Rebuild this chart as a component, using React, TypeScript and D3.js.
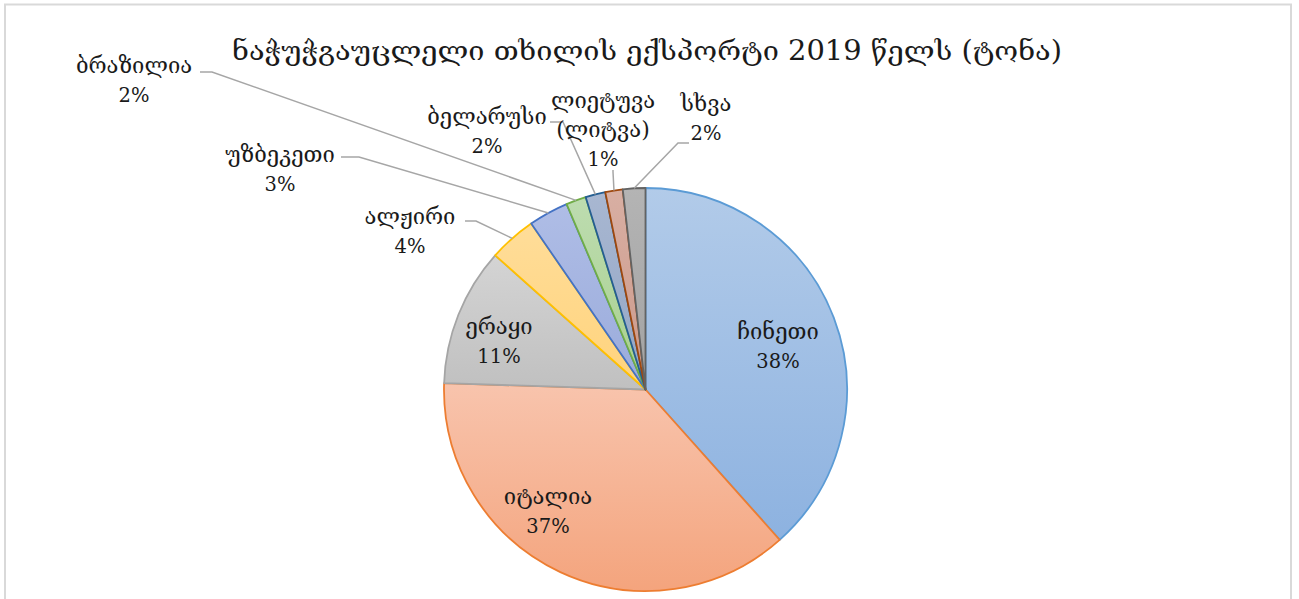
import React from "react";
import * as d3 from "d3";

const categories = ["ჩინეთი", "იტალია", "ერაყი", "ალჟირი", "უზბეკეთი", "ბრაზილია", "ბელარუსი", "ლიეტუვა (ლიტვა)", "სხვა"];
const shares = [38.4, 37.1, 11.1, 3.8, 3.2, 1.6, 1.6, 1.4, 1.8];
const labelLines = [["ჩინეთი"], ["იტალია"], ["ერაყი"], ["ალჟირი"], ["უზბეკეთი"], ["ბრაზილია"], ["ბელარუსი"], ["ლიეტუვა", "(ლიტვა)"], ["სხვა"]];
const title = "ნაჭუჭგაუცლელი თხილის ექსპორტი 2019 წელს (ტონა)";

const fillTop = ["#b2cbe9", "#f8c4ad", "#d4d4d4", "#ffdd99", "#afbde6", "#bddcb0", "#a8b7d1", "#d8afa3", "#b4b4b4"];
const fillBottom = ["#8db2e0", "#f4a47d", "#c0c0c0", "#ffd37c", "#9aabdb", "#a8d08d", "#93a6c5", "#cc998a", "#a2a2a2"];
const strokes = ["#5b9bd5", "#ed7d31", "#a5a5a5", "#ffc000", "#4472c4", "#70ad47", "#255e91", "#9e480e", "#636363"];

// label layout: text center x, first line baseline y, optional leader anchor/elbow
type Lay = { x: number; y: number; ax?: number; ay?: number; ex?: number; ey?: number };
const layout: Lay[] = [
  { x: 778, y: 339 },
  { x: 548, y: 504 },
  { x: 499, y: 334 },
  { x: 410, y: 224, ax: 465, ay: 221, ex: 476, ey: 221 },
  { x: 280, y: 162, ax: 341, ay: 157, ex: 359, ey: 157 },
  { x: 134, y: 73, ax: 200, ay: 72, ex: 212, ey: 72 },
  { x: 487, y: 124, ax: 550, ay: 122, ex: 563, ey: 122 },
  { x: 603, y: 108, ax: 613, ay: 170, ex: 613, ey: 172 },
  { x: 706, y: 111, ax: 689, ay: 143, ex: 678, ey: 143 },
];

const W = 1299;
const H = 599;
const cx = 645.5;
const cy = 389.5;
const R = 201.5;
const lineH = 29;

export default function App() {
  const pie = d3.pie<number>().sort(null).value((d) => d);
  const arcs = pie(shares);
  const arcGen = d3.arc<d3.PieArcDatum<number>>().innerRadius(0).outerRadius(R);
  const font = "'DejaVu Serif', serif";
  const total = d3.sum(shares);

  return (
    <svg width={W} height={H} style={{ position: "absolute", left: 0, top: 0 }} fontFamily={font}>
      <defs>
        {shares.map((_, i) => (
          <linearGradient key={i} id={`g${i}`} x1="0" y1="0" x2="0" y2="1">
            <stop offset="0" stopColor={fillTop[i]} />
            <stop offset="1" stopColor={fillBottom[i]} />
          </linearGradient>
        ))}
      </defs>
      <rect x={0} y={0} width={W} height={H} fill="#fff" />
      <rect x={5} y={4.5} width={1286} height={H + 20} fill="none" stroke="#d9d9d9" strokeWidth={2} />
      <text x={232} y={60} fontSize={27} fill="#1a1a1a" textLength={830} lengthAdjust="spacingAndGlyphs">{title}</text>
      <g transform={`translate(${cx},${cy})`}>
        {arcs.map((a, i) => (
          <path key={categories[i]} d={arcGen(a) || ""} fill={`url(#g${i})`} stroke={strokes[i]} strokeWidth={1.8} strokeLinejoin="round" />
        ))}
      </g>
      {arcs.map((a, i) => {
        const L = layout[i];
        if (L.ax === undefined) return null;
        const mid = (a.startAngle + a.endAngle) / 2;
        const px = cx + R * Math.sin(mid);
        const py = cy - R * Math.cos(mid);
        return (
          <polyline key={"l" + i} points={`${L.ax},${L.ay} ${L.ex},${L.ey} ${px},${py}`} fill="none" stroke="#a6a6a6" strokeWidth={1.5} />
        );
      })}
      {arcs.map((a, i) => {
        const L = layout[i];
        const pct = Math.round((shares[i] / total) * 100) + "%";
        const names = labelLines[i];
        return (
          <g key={"t" + i} fill="#1a1a1a" textAnchor="middle">
            {names.map((s, j) => (
              <text key={j} x={L.x} y={L.y + j * lineH} fontSize={22}>{s}</text>
            ))}
            <text x={L.x} y={L.y + names.length * lineH} fontSize={19.5}>{pct}</text>
          </g>
        );
      })}
    </svg>
  );
}
